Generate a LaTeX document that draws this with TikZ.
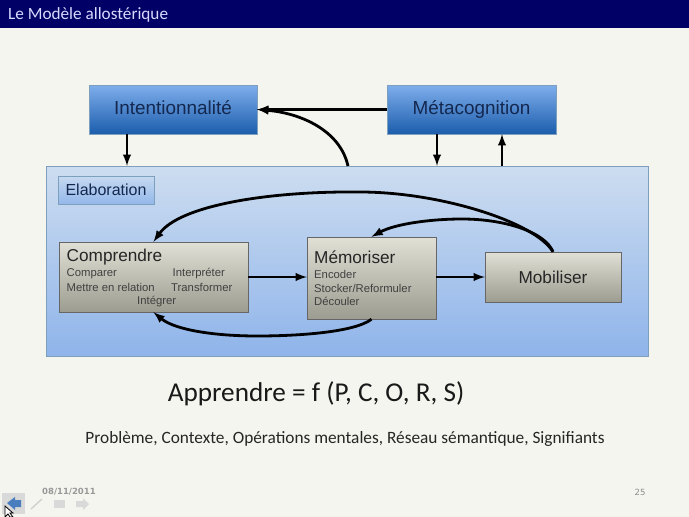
\documentclass[tikz,border=0pt]{standalone}
\usepackage{fontspec}
\setmainfont{Liberation Sans}
\newfontfamily\slidefont{Carlito}
\newfontfamily\footfont{DejaVu Sans}
\definecolor{barblue}{HTML}{000066}
\definecolor{slidebg}{HTML}{F4F5EE}
\definecolor{inktext}{HTML}{14284F}
\definecolor{edgeblue}{HTML}{7F9FBF}
\definecolor{paneltop}{HTML}{CDDDF0}
\definecolor{panelbot}{HTML}{8FB4EA}
\definecolor{boxtop}{HTML}{7FAEEC}
\definecolor{boxbot}{HTML}{1B5DAC}
\definecolor{greytop}{HTML}{E0E0D6}
\definecolor{greybot}{HTML}{9C9C90}
\definecolor{tagtop}{HTML}{C6D9F0}
\definecolor{tagbot}{HTML}{93B8EA}
\tikzset{
  bluebox/.style={draw=edgeblue, top color=boxtop, bottom color=boxbot, text=inktext, font=\fontsize{18.9}{21}\selectfont, inner sep=0pt, text height=14pt, text depth=4pt},
  greybox/.style={draw=black!60, top color=greytop, bottom color=greybot, inner sep=0pt},
  title/.style={anchor=west, inner sep=0pt, font=\fontsize{17.2}{19}\selectfont, text=black!85},
  subtext/.style={anchor=west, inner sep=0pt, font=\fontsize{11.3}{13}\selectfont, text=black!75},
  link/.style={line width=2.8pt, -latex},
}
\begin{document}
\begin{tikzpicture}[x=1pt,y=-1pt]
  \useasboundingbox (0,0) rectangle (689,517);

  % Background and title bar
  \fill[slidebg] (0,0) rectangle (689,517);
  \fill[barblue] (0,0) rectangle (689,28);
  \node[anchor=west, inner sep=0pt, text=white!85!blue, font=\slidefont\fontsize{17.2}{19}\selectfont] (slidetitle) at (8,14.5) {Le Modèle allostérique};

  % Big panel
  \node[draw=edgeblue, top color=paneltop, bottom color=panelbot, minimum width=602pt, minimum height=190pt, inner sep=0pt] (panel) at (347,261) {};
  \node[draw=edgeblue, top color=tagtop, bottom color=tagbot, text=inktext, minimum width=96pt, minimum height=28pt, inner sep=0pt, font=\fontsize{16}{18}\selectfont] (elab) at (106,190) {Elaboration};

  % Top boxes
  \node[bluebox, minimum width=168pt, minimum height=49pt] (intent) at (173,109.5) {Intentionnalité};
  \node[bluebox, minimum width=169pt, minimum height=49pt] (meta) at (471.5,109.5) {Métacognition};

  % Grey boxes
  \node[greybox, minimum width=189pt, minimum height=70pt] (comp) at (153.5,277) {};
  \node[greybox, minimum width=129pt, minimum height=82pt] (memo) at (371.5,278) {};
  \node[greybox, minimum width=136pt, minimum height=50pt, font=\fontsize{17.2}{19}\selectfont, text=black!85] (mobi) at (553,277) {Mobiliser};

  % Text in Comprendre
  \node[title] (comptitle) at (66.5,257) {Comprendre};
  \node[subtext] (comp1) at (66.5,274) {Comparer};
  \node[subtext] (comp2) at (172.5,274) {Interpréter};
  \node[subtext] (comp3) at (66.5,287.5) {Mettre en relation};
  \node[subtext] (comp4) at (171,287.5) {Transformer};
  \node[subtext] (comp5) at (137,301.5) {Intégrer};

  % Text in Memoriser
  \node[title] (memotitle) at (314,257) {Mémoriser};
  \node[subtext] (memo1) at (314,274.5) {Encoder};
  \node[subtext] (memo2) at (314,288) {Stocker/Reformuler};
  \node[subtext] (memo3) at (314,301.5) {Découler};

  % Straight arrows
  \draw[link] ([xshift=-46pt]intent.south) -- ([xshift=-46pt]intent.south |- panel.north);
  \draw[link] ([xshift=-34.5pt]meta.south) -- ([xshift=-34.5pt]meta.south |- panel.north);
  \draw[link] ([xshift=30.5pt]meta.south |- panel.north) -- ([xshift=30.5pt]meta.south);
  \draw[link] (meta.west) -- (intent.east);
  \draw[link] (comp.east) -- (memo.west |- comp.east);
  \draw[link] (memo.east |- mobi.west) -- (mobi.west);

  % Curved arrows
  \coordinate (panelexit) at (348,166);
  \draw[link] (panelexit) .. controls (340,130) and (300,113) .. (intent.east);
  \draw[link] (mobi.north) .. controls (535,222) and (440,192) .. (360,192) .. controls (270,191) and (180,205) .. (comp.north);
  \draw[link] (mobi.north) .. controls (545,232) and (505,219) .. (462,219) .. controls (430,219) and (395,224) .. (memo.north);
  \draw[link] (memo.south) .. controls (355,332) and (300,336) .. (257,336) .. controls (215,336) and (175,330) .. (comp.south);

  % Formula and legend
  \node[inner sep=0pt, text=black!90, font=\slidefont\fontsize{27.2}{30}\selectfont] (formula) at (316,394) {Apprendre = f (P, C, O, R, S)};
  \node[inner sep=0pt, text=black!85, font=\slidefont\fontsize{17.3}{20}\selectfont] (legend) at (345,438.5) {Problème, Contexte, Opérations mentales, Réseau sémantique, Signifiants};

  % Footer
  \node[anchor=west, inner sep=0pt, text=black!40, font=\footfont\bfseries\fontsize{8.5}{10}\selectfont] (datefoot) at (42,492) {08/11/2011};
  \node[inner sep=0pt, text=black!45, font=\footfont\fontsize{8.5}{10}\selectfont] (pagenum) at (640,492) {25};

  % Navigation icons
  \fill[black!15] (2,493) rectangle (25,514);
  \fill[boxbot!80!white] (7,503) -- (15,497) -- (15,500) -- (21,500) -- (21,507) -- (15,507) -- (15,510) -- cycle;
  \draw[black!20, line width=1.2pt] (31,509) -- (42,499);
  \fill[black!15] (54,500) rectangle (65,508);
  \fill[black!15] (76,501) -- (83,501) -- (83,498) -- (89,504) -- (83,510) -- (83,507) -- (76,507) -- cycle;
  \filldraw[fill=white, draw=black, line width=0.8pt] (5,506) -- (5,517) -- (8,514) -- (10,517) -- (13,517) -- (10,513) -- (13,513) -- cycle;
\end{tikzpicture}
\end{document}
